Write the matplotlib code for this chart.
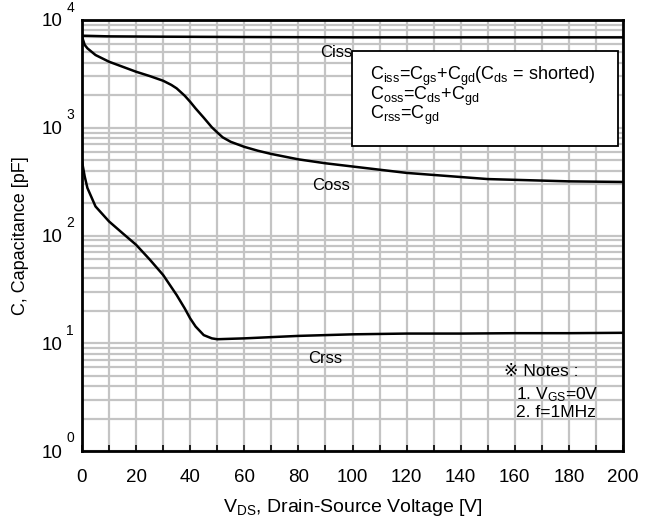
import numpy as np
import matplotlib
matplotlib.use("Agg")
import matplotlib.pyplot as plt
from matplotlib.ticker import FixedLocator, NullLocator
from matplotlib.patches import Rectangle

plt.rcParams['font.family'] = ['Liberation Sans', 'DejaVu Sans']
plt.rcParams['mathtext.fontset'] = 'custom'
plt.rcParams['mathtext.rm'] = 'Liberation Sans'
plt.rcParams['mathtext.it'] = 'Liberation Sans'
plt.rcParams['mathtext.bf'] = 'Liberation Sans'

# Data
ciss_v = [0, 10, 30, 60, 100, 150, 200]
ciss_c = [7150, 7050, 7000, 6950, 6900, 6900, 6900]

coss_v = [0, 1, 2, 5, 10, 20, 25, 30, 33, 35, 38, 40, 42, 45, 48, 50, 52, 55, 60, 65, 70,
          80, 90, 103, 120, 150, 180, 200]
coss_c = [7000, 5870, 5460, 4730, 4100, 3310, 3020, 2730, 2500, 2320, 1980, 1740, 1510,
          1240, 1010, 905, 815, 740, 665, 612, 571, 509, 468, 428, 381, 334, 318, 314]

crss_v = [0, 1, 2, 5, 10, 15, 20, 25, 30, 35, 38, 40, 42, 45, 48, 50, 55, 60, 70, 80,
          90, 100, 120, 140, 160, 180, 200]
crss_c = [486, 353, 276, 186, 135, 105, 82, 60, 43, 28, 21, 17, 14.3, 11.9, 11.1, 10.9,
          11.0, 11.1, 11.4, 11.7, 11.9, 12.1, 12.3, 12.3, 12.4, 12.4, 12.5]

x_ticks = [0, 20, 40, 60, 80, 100, 120, 140, 160, 180, 200]
y_decades = [0, 1, 2, 3, 4]

fig = plt.figure(figsize=(6.54, 5.29), dpi=100)
ax = fig.add_axes([82/654, 1 - 451/529, (623-82)/654, (451-20)/529])

ax.set_yscale('log')
ax.set_xlim(0, 200)
ax.set_ylim(1, 1e4)

# grid
for xv in range(0, 201, 10):
    ax.axvline(xv, color='#c4c4c4', lw=1.6, zorder=1)
for d in range(0, 4):
    for m in range(1, 10):
        ax.axhline(m * 10**d, color='#c4c4c4', lw=1.6, zorder=1)

ax.plot(ciss_v, ciss_c, color='black', lw=1.8, zorder=3)
ax.plot(coss_v, coss_c, color='black', lw=1.8, zorder=3)
ax.plot(crss_v, crss_c, color='black', lw=1.8, zorder=3)

for s in ax.spines.values():
    s.set_linewidth(2.0)
    s.set_zorder(5)

ax.xaxis.set_major_locator(FixedLocator(x_ticks))
ax.xaxis.set_minor_locator(FixedLocator(list(range(10, 200, 20))))
ax.tick_params(axis='x', which='both', direction='in', length=4, width=1.2,
               labelsize=13.5, pad=13)
ax.yaxis.set_major_locator(FixedLocator([10**d for d in y_decades]))
ax.yaxis.set_minor_locator(NullLocator())
ax.set_yticklabels(['10'] * len(y_decades))
ax.tick_params(axis='y', which='both', length=0, labelsize=13.5, pad=14)

for d in y_decades:
    ax.annotate(str(d), xy=(0, 10**d), xycoords=('axes fraction', 'data'),
                xytext=(-8.5, 9), textcoords='offset points', fontsize=10,
                ha='center', va='center')

ax.set_xlabel(r'V$_{\rm DS}$, Drain-Source Voltage [V]', fontsize=14, labelpad=8)
ax.set_ylabel('C, Capacitance [pF]', fontsize=13, labelpad=9)

ax.text(94, 5040, 'Ciss', fontsize=12, ha='center', va='center', zorder=4)
ax.text(92, 290, 'Coss', fontsize=12, ha='center', va='center', zorder=4)
ax.text(90, 7.2, 'Crss', fontsize=12, ha='center', va='center', zorder=4)

bx0 = (352-82)/541; bx1 = (618-82)/541
by0 = (451-146)/431; by1 = (451-51)/431
ax.add_patch(Rectangle((bx0, by0), bx1-bx0, by1-by0, transform=ax.transAxes,
                       facecolor='white', edgecolor='black', lw=1.3, zorder=6))
box_lines = [r'C$_{\rm iss}$=C$_{\rm gs}$+C$_{\rm gd}$(C$_{\rm ds}$ = shorted)',
             r'C$_{\rm oss}$=C$_{\rm ds}$+C$_{\rm gd}$',
             r'C$_{\rm rss}$=C$_{\rm gd}$']
for line, base in zip(box_lines, [80, 100, 119]):
    ax.text((370-82)/541, (451-base)/431, line, transform=ax.transAxes, fontsize=13,
            ha='left', va='baseline', zorder=7)

ax.text(156, 5.41, '\u203b Notes :', fontsize=12.5, ha='left', va='center', zorder=4)
ax.text(160.5, 3.31, r'1. V$_{\rm GS}$=0V', fontsize=12.5, ha='left', va='center', zorder=4)
ax.text(160.5, 2.30, '2. f=1MHz', fontsize=12.5, ha='left', va='center', zorder=4)

fig.savefig('out.png', dpi=100)
